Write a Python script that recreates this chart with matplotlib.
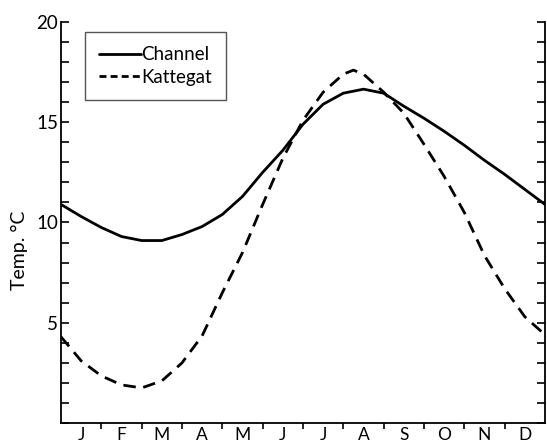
import numpy as np
import matplotlib
matplotlib.use("Agg")
import matplotlib.pyplot as plt
from matplotlib.ticker import MultipleLocator, FixedLocator

plt.rcParams['font.family'] = ['Lato', 'DejaVu Sans']
plt.rcParams['lines.scale_dashes'] = False

#%% data (month position, temperature)
months = ['J', 'F', 'M', 'A', 'M', 'J', 'J', 'A', 'S', 'O', 'N', 'D']

channel_t = [0, 0.5, 1, 1.5, 2, 2.5, 3, 3.5, 4, 4.5, 5, 5.5, 6,
             6.5, 7, 7.5, 8, 8.5, 9, 9.5, 10, 10.5, 11, 11.5, 12]
channel_v = [10.9, 10.3, 9.75, 9.3, 9.1, 9.1, 9.4, 9.8, 10.4, 11.3, 12.5, 13.6, 14.9,
             15.9, 16.45, 16.65, 16.45, 15.8, 15.2, 14.55, 13.85, 13.1, 12.4, 11.65, 10.9]

kattegat_t = [0, 0.5, 1, 1.5, 2, 2.5, 3, 3.5, 4, 4.5, 5, 5.5, 6,
              6.5, 7, 7.25, 7.5, 8, 8.5, 9, 9.5, 10, 10.5, 11, 11.5, 12]
kattegat_v = [4.3, 3.1, 2.35, 1.9, 1.75, 2.1, 3.0, 4.35, 6.5, 8.5, 10.9, 13.2, 15.1,
              16.5, 17.4, 17.6, 17.4, 16.5, 15.45, 13.9, 12.3, 10.5, 8.35, 6.7, 5.3, 4.4]

#%% plot
fig = plt.figure(figsize=(5.47, 4.46), dpi=100)
ax = fig.add_axes([61/547, 23/446, 484/547, 401/446])

ax.plot(channel_t, channel_v, color='black', lw=2.0, label='Channel',
        solid_capstyle='round')
ax.plot(kattegat_t, kattegat_v, color='black', lw=2.0, ls=(0, (9, 5.5)),
        label='Kattegat')

ax.set_xlim(0, 12)
ax.set_ylim(0, 20)

ax.spines['top'].set_visible(False)
for s in ['left', 'right', 'bottom']:
    ax.spines[s].set_linewidth(1.3)

# y ticks: labelled every 5, small ticks every 1, inward on both sides
ax.yaxis.set_major_locator(FixedLocator([5, 10, 15, 20]))
ax.yaxis.set_minor_locator(MultipleLocator(1))
ax.tick_params(axis='y', which='both', direction='in', length=6, width=1.2,
               left=True, right=True, labelsize=13.5, pad=2)

# x ticks: marks between months, letters at month centres
ax.xaxis.set_major_locator(FixedLocator(np.arange(1, 12)))
ax.xaxis.set_minor_locator(FixedLocator(np.arange(0.5, 12, 1)))
ax.xaxis.set_major_formatter(plt.NullFormatter())
ax.set_xticklabels(months, minor=True)
ax.tick_params(axis='x', which='major', direction='out', length=4, width=1.2)
ax.tick_params(axis='x', which='minor', length=0, labelsize=12.5, pad=3)

ax.set_ylabel('Temp. °C', fontsize=14)
ax.yaxis.set_label_coords(-0.068, 0.43)

leg = ax.legend(loc='upper left', bbox_to_anchor=(0.05, 0.975), borderaxespad=0,
                fontsize=13.5, handlelength=2.2, handletextpad=0.05,
                labelspacing=0.3, borderpad=0.75, fancybox=False, framealpha=1)
leg.get_frame().set_edgecolor('#555555')
leg.get_frame().set_linewidth(1.0)
for h in leg.get_lines():
    if h.get_label() == 'Kattegat':
        h.set_dashes((5, 3))

fig.savefig('out.png', dpi=100)
